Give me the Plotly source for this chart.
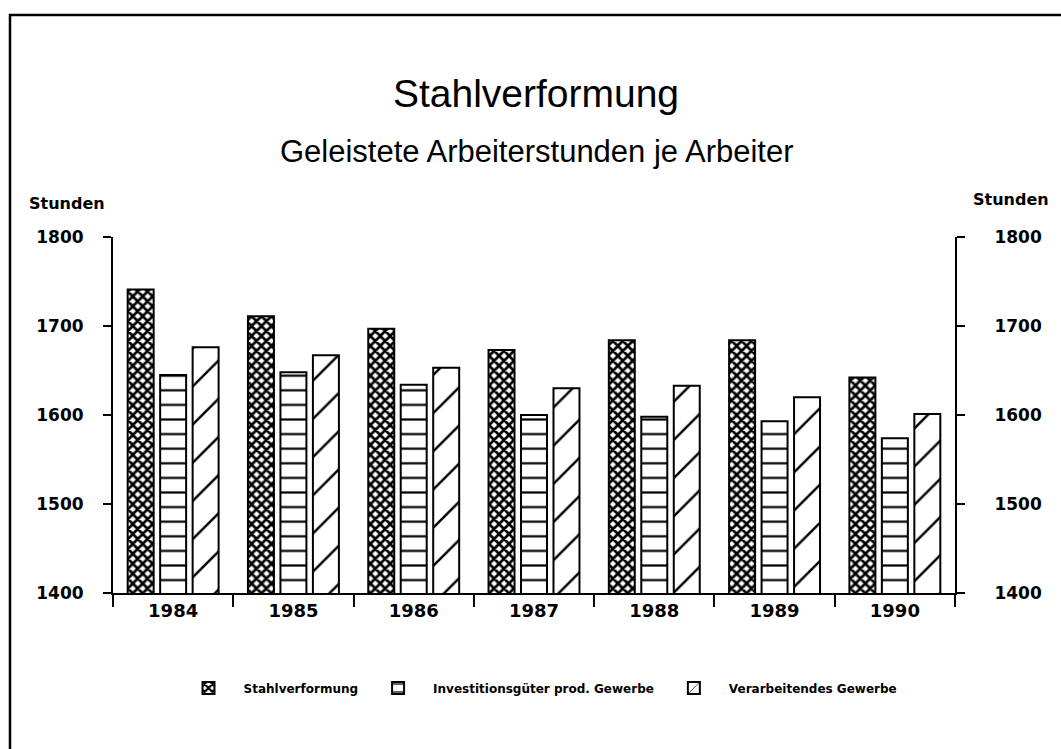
import plotly.graph_objects as go

# ---- data ----
years = ["1984", "1985", "1986", "1987", "1988", "1989", "1990"]
stahl = [1741, 1711, 1697, 1673, 1684, 1684, 1642]
invest = [1645, 1648, 1634, 1600, 1598, 1593, 1574]
verarb = [1676, 1667, 1653, 1630, 1633, 1620, 1601]
series_names = ["Stahlverformung", "Investitionsgüter prod. Gewerbe", "Verarbeitendes Gewerbe"]
y_ticks = [1400, 1500, 1600, 1700, 1800]
title_text = "Stahlverformung"
subtitle_text = "Geleistete Arbeiterstunden je Arbeiter"
unit_text = "Stunden"

W, H = 1061, 749
L, R, T, B = 113, 106, 237, 156
pw, ph = W - L - R, H - T - B


def px(x):
    return (x - L) / pw


def py(y):
    return (H - B - y) / ph


tick_font = dict(family="DejaVu Sans", size=17, color="black", weight="bold")

fig = go.Figure()
patterns = [
    dict(shape="x", size=7, solidity=0.62, fgcolor="black", fgopacity=1, bgcolor="white", fillmode="overlay"),
    dict(shape="-", size=14.6, solidity=0.15, fgcolor="black", fgopacity=1, bgcolor="white", fillmode="overlay"),
    dict(shape="/", size=27, solidity=0.09, fgcolor="black", fgopacity=1, bgcolor="white", fillmode="overlay"),
]
for name, vals, pat in zip(series_names, [stahl, invest, verarb], patterns):
    fig.add_trace(go.Bar(
        x=years, y=vals, name=name,
        marker=dict(color="white", pattern=pat, line=dict(color="black", width=2)),
    ))

# invisible trace so the right-hand axis is drawn
fig.add_trace(go.Scatter(x=years, y=stahl, yaxis="y2", mode="markers",
                         marker=dict(opacity=0), showlegend=False, hoverinfo="skip"))

axis_common = dict(
    range=[1400, 1800], tickvals=y_ticks, ticks="outside", ticklen=8, tickwidth=2,
    tickcolor="black", showline=True, linecolor="black", linewidth=2,
    showgrid=False, zeroline=False, tickfont=tick_font,
)

fig.update_layout(
    width=W, height=H,
    margin=dict(l=L, r=R, t=T, b=B, pad=0),
    paper_bgcolor="white", plot_bgcolor="white",
    barmode="group", bargap=0.19, bargroupgap=0.2,
    font=dict(family="DejaVu Sans", color="black"),
    title=dict(text=title_text, x=px(536), xref="paper", xanchor="center",
               y=1 - 93 / H, yanchor="middle",
               font=dict(family="Liberation Sans", size=39, color="black")),
    xaxis=dict(type="category", showline=True, linecolor="black", linewidth=2,
               ticks="outside", tickson="boundaries", ticklen=12, tickwidth=2,
               tickcolor="black", showgrid=False, tickfont=dict(family="DejaVu Sans", size=18,
                                                                color="black", weight="bold")),
    yaxis=dict(side="left", ticklabelstandoff=16, **axis_common),
    yaxis2=dict(side="right", overlaying="y", ticklabelstandoff=26, **axis_common),
    legend=dict(orientation="h", x=px(538), xanchor="center", y=py(688), yanchor="middle",
                font=dict(family="DejaVu Sans", size=12, color="black", weight="bold"),
                itemwidth=60, bgcolor="rgba(0,0,0,0)"),
    annotations=[
        dict(text=subtitle_text, x=px(537), y=py(151), xref="paper", yref="paper",
             showarrow=False, xanchor="center", yanchor="middle",
             font=dict(family="Liberation Sans", size=31, color="black")),
        dict(text=unit_text, x=px(67), y=py(203), xref="paper", yref="paper",
             showarrow=False, xanchor="center", yanchor="middle",
             font=dict(family="DejaVu Sans", size=16, color="black", weight="bold")),
        dict(text=unit_text, x=px(1011), y=py(200), xref="paper", yref="paper",
             showarrow=False, xanchor="center", yanchor="middle",
             font=dict(family="DejaVu Sans", size=16, color="black", weight="bold")),
    ],
    shapes=[
        dict(type="path", xref="paper", yref="paper",
             path=f"M {px(10)},{py(760)} L {px(10)},{py(15)} L {px(1070)},{py(15)}",
             line=dict(color="black", width=2.5)),
    ],
)

fig.write_html("out.html", config={"displayModeBar": False},
               post_script="document.body.style.margin='0';document.body.style.overflow='hidden';")
